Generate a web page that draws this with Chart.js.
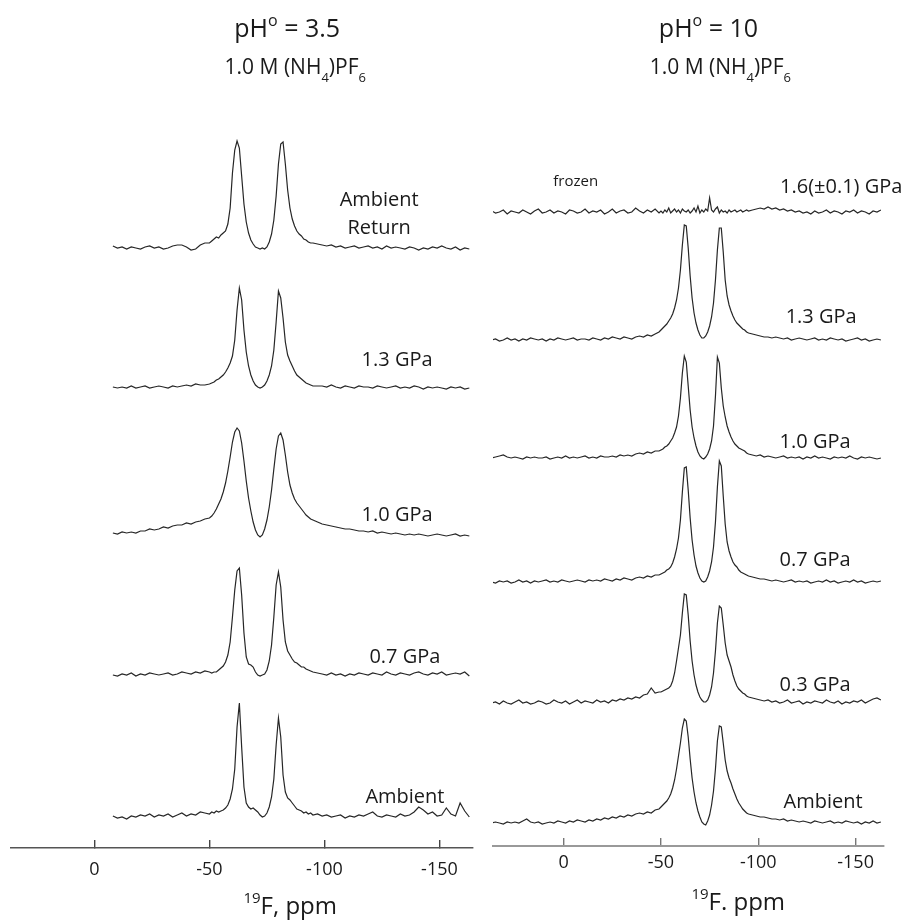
<!DOCTYPE html>
<html>
<head>
<meta charset="utf-8">
<script src="https://cdn.jsdelivr.net/npm/chart.js@4.4.1/dist/chart.umd.min.js"></script>
<style>
  body { margin: 0; background: #fff; }
  #wrap { position: relative; width: 913px; height: 920px; }
  .panel { position: absolute; top: 0; height: 920px; }
</style>
</head>
<body>
<div id="wrap">
  <div class="panel" style="left:0;width:480px"><canvas id="left-chart"></canvas></div>
  <div class="panel" style="left:480px;width:433px"><canvas id="right-chart"></canvas></div>
</div>
<script>
// chemical shift grids (ppm)
const leftPpm = [
  -8, -10, -12, -14, -16, -18, -20, -22, -24, -26, -28, -30, -32, -34, -36, -38, -40, -42, -44, -46, -48,
  -50, -51, -52, -53, -54, -55, -56, -57, -58, -59, -60, -61, -62, -63, -64, -65, -66, -67, -68, -69,
  -70, -71, -72, -73, -74, -75, -76, -77, -78, -79, -80, -81, -82, -83, -84, -85, -86, -87, -88, -89,
  -90, -91, -92, -93, -94, -95,
  -97, -99, -101, -103, -105, -107, -109, -111, -113, -115, -117, -119, -121, -123, -125, -127, -129,
  -131, -133, -135, -137, -139, -141, -143, -145, -147, -149, -151, -153, -155, -157, -159, -161, -163
];
const rightPpm = [
  37, 35, 33, 31, 29, 27, 25, 23, 21, 19, 17, 15, 13, 11, 9, 7, 5, 3, 1, -1, -3, -5, -7, -9, -11, -13,
  -15, -17, -19, -21, -23, -25, -27, -29, -31, -33, -35, -37, -39, -41, -43, -45, -47, -49,
  -50, -51, -52, -53, -54, -55, -56, -57, -58, -59, -60, -61, -62, -63, -64, -65, -66, -67, -68, -69,
  -70, -71, -72, -73, -74, -75, -76, -77, -78, -79, -80, -81, -82, -83, -84, -85, -86, -87, -88, -89,
  -90, -91, -92, -93, -94, -95,
  -97, -99, -101, -103, -105, -107, -109, -111, -113, -115, -117, -119, -121, -123, -125, -127, -129,
  -131, -133, -135, -137, -139, -141, -143, -145, -147, -149, -151, -153, -155, -157, -159, -161, -163
];

// pH 3.5 spectra (intensity, arbitrary units)
const leftAmbientReturn = [
  2, 0, 1, -1, 1, 0, -1, 1, 2, 0, 1, -1, 0, 2, 3, 3, 1, -2, -1, 3, 5,
  5, 7, 9, 11, 10, 13, 15, 17, 24, 40, 75, 98, 107, 100, 72, 44, 26, 15, 8, 4,
  1, 0, -1, 0, -1, 1, 6, 14, 28, 52, 84, 104, 106, 84, 58, 40, 29, 22, 17, 14,
  12, 9, 8, 6, 5, 5,
  4, 3, 2, 3, 1, 2, 0, 1, 2, 0, 1, 2, 0, 1, -1, 2, 0, 1, 0, -1, 1, 0, -2, 0, -1, 1, 0, 2, 0, -1, 1, -2, 0, -1
];
const left13 = [
  1, 0, 1, 0, 2, 0, 1, 2, 0, 1, 2, 1, 0, 2, 1, 2, 3, 2, 4, 3, 3,
  4, 5, 6, 8, 9, 11, 13, 16, 20, 25, 32, 48, 78, 100, 88, 58, 36, 22, 13, 7,
  3, 1, 0, 1, 3, 7, 13, 22, 38, 66, 97, 90, 70, 46, 33, 27, 22, 17, 13, 11,
  9, 7, 5, 4, 3, 2,
  2, 2, 1, 3, 1, 0, 2, 1, 0, 2, 1, 1, 0, 2, 1, 0, 1, 2, 0, 1, 0, 2, 1, -1, 1, 0, 1, 0, -1, 1, 0, 1, -1, 0
];
const left10 = [
  2, 1, 3, 2, 3, 2, 4, 4, 6, 5, 6, 8, 7, 9, 10, 10, 12, 11, 13, 14, 16,
  17, 19, 22, 26, 31, 36, 43, 52, 64, 78, 93, 103, 107, 104, 92, 74, 54, 37, 24, 13,
  5, 0, -2, 0, 6, 15, 28, 45, 66, 86, 99, 102, 95, 80, 63, 50, 42, 36, 32, 29,
  26, 23, 20, 18, 16, 15,
  13, 11, 10, 9, 8, 7, 6, 6, 5, 4, 4, 3, 4, 2, 3, 2, 1, 2, 1, 0, 1, 0, 1, 0, -1, 0, 1, 0, -1, 0, 1, -1, 0, -1
];
const left07 = [
  0, -1, 1, 0, 2, -1, 1, 0, 2, 1, 0, 1, 2, 0, 1, 3, 2, 1, 3, 2, 4,
  3, 2, 3, 3, 5, 7, 9, 13, 20, 33, 58, 85, 104, 107, 80, 42, 18, 11, 10, 8,
  3, 0, -1, 0, 1, 5, 14, 30, 58, 90, 103, 88, 55, 33, 24, 20, 16, 13, 12, 10,
  8, 8, 6, 5, 4, 3,
  2, 1, 0, 2, 0, 1, -1, 1, 0, 2, 1, 0, 2, 1, 0, 3, 1, 0, 2, 1, 0, 2, 3, 1, 0, 2, 1, 3, 0, 1, 2, 1, 3, -1
];
const leftAmbient = [
  1, -1, 0, -2, 1, 0, 2, 1, 3, 0, 2, 1, 3, 0, 2, 4, 1, 3, 2, 5, 4,
  3, 5, 4, 6, 5, 6, 7, 9, 12, 18, 28, 48, 90, 114, 70, 30, 14, 10, 8, 9,
  7, 5, 2, 0, 1, 4, 10, 20, 38, 72, 99, 80, 42, 25, 19, 17, 14, 11, 8, 7,
  6, 4, 5, 3, 4, 2,
  3, 1, 2, 0, 1, 2, -1, 1, 0, 2, 1, 3, 5, 1, 0, 2, 1, 0, 3, 1, 2, 5, 10, 7, 3, 5, 1, 2, 9, 3, 1, 14, 6, 0
];

// pH 10 spectra
const rightFrozen = [
  1, -1, 0, 2, -2, 1, 0, -1, 2, 0, -2, 1, 3, -1, 0, 2, -1, 1, 0, -2, 2, 1, -1, 0, 3, -1, 1, 0, 2, -2,
  0, 3, -1, 1, 2, -1, 0, 4, 1, -1, 2, 0, 3, -1,
  1, -1, 2, 0, 4, -1, 1, 3, 0, 2, -1, 3, 1, 0, 2, -1, 1, 4, 0, 6,
  -1, 2, 0, 3, 1, 14, 2, 0, 3, 5, -1, 2, 0, 1, -1, 2, 0, 1, 2, 0,
  1, 2, 0, 1, 2, 1,
  2, 3, 4, 3, 5, 3, 4, 2, 3, 1, 2, 0, 1, -1, 0, -2, 1, -1, 0, 2, -1, 1, 0, -2, 1, 0, 2, -1, 1, 0, -2, 1, 0, 2
];
const right13 = [
  0, 1, -1, 0, 2, 0, 1, -1, 1, 0, 2, 1, 0, 1, -1, 1, 0, 2, 1, 0, 1, 2, 0, 1, 1, 0, 2, 1, 0, 2,
  1, 3, 2, 1, 3, 2, 1, 3, 4, 3, 5, 4, 6, 8,
  10, 12, 14, 16, 19, 22, 26, 32, 40, 52, 70, 95, 115, 114, 92, 64, 42, 27, 17, 10,
  5, 2, 2, 4, 8, 14, 23, 37, 60, 90, 112, 112, 88, 60, 44, 35, 29, 24, 20, 17,
  15, 13, 11, 10, 8, 7,
  6, 5, 4, 3, 3, 2, 3, 2, 1, 2, 0, 1, 2, 1, 0, 1, 2, 0, 1, 0, 2, 1, 0, 1, -1, 0, 1, 2, 0, 1, -1, 0, 1, 0
];
const right10 = [
  0, 1, 2, 3, 1, 0, 1, 0, -1, 1, 0, 1, 0, 0, 1, -1, 0, 1, 0, 2, 0, 1, 0, 1, 2, 0, 1, 0, 2, 1,
  1, 2, 1, 3, 2, 3, 2, 4, 5, 4, 6, 5, 7, 7,
  8, 9, 11, 12, 14, 17, 20, 25, 31, 42, 60, 85, 102, 96, 72, 48, 31, 20, 12, 6,
  2, 0, -1, 1, 4, 9, 17, 32, 62, 101, 95, 70, 52, 41, 32, 26, 21, 17, 14, 12,
  10, 9, 8, 7, 5, 4,
  3, 2, 3, 1, 2, 1, 0, 1, 2, 0, 1, 0, 1, -1, 1, 0, 2, 0, 1, 0, -1, 1, 0, 1, 0, 2, 0, -1, 1, 0, 1, 0, -1, 0
];
const right07 = [
  0, -1, 1, 0, 1, -1, 0, 2, 0, 1, -1, 1, 0, 1, 2, 0, 1, 0, 2, 1, 0, 1, 2, 1, 0, 2, 1, 2, 1, 3,
  2, 1, 3, 2, 4, 3, 2, 4, 5, 4, 6, 5, 7, 7,
  8, 9, 10, 12, 13, 15, 19, 25, 33, 44, 62, 90, 114, 115, 92, 64, 42, 27, 16, 9,
  4, 1, 0, 1, 5, 11, 20, 35, 60, 95, 121, 116, 86, 58, 40, 31, 25, 20, 17, 15,
  12, 10, 9, 8, 7, 6,
  5, 4, 3, 3, 2, 1, 2, 1, 0, 1, 2, 0, 1, 0, 1, -1, 0, 1, 0, 2, 0, 1, -1, 0, 1, 0, 2, 0, 1, -1, 0, 1, 0, 1
];
const right03 = [
  0, 1, -1, 2, 0, -1, 1, 3, 0, 1, -1, 0, 2, 1, -1, 0, 3, 1, 0, 2, -1, 1, 3, 0, 2, 1, 0, 3, 1, 2,
  0, 3, 2, 4, 3, 5, 4, 6, 5, 8, 9, 15, 10, 11,
  11, 12, 13, 14, 15, 17, 22, 30, 42, 55, 68, 90, 109, 108, 88, 62, 42, 28, 18, 11,
  6, 3, 1, 1, 3, 8, 16, 30, 52, 80, 97, 95, 78, 60, 48, 42, 36, 28, 22, 17,
  14, 12, 10, 9, 7, 6,
  5, 4, 3, 2, 3, 1, 2, 0, 1, 3, 0, 1, 2, -1, 1, 0, 2, 1, 0, 3, 1, 0, 2, -1, 1, 0, 2, 1, 3, 0, 2, 4, 5, 3
];
const rightAmbient = [
  0, 1, 0, -1, 1, 0, 1, 0, 2, 4, 1, 0, 1, -1, 0, 1, 0, 2, 1, 0, 2, 1, 3, 2, 1, 3, 2, 4, 3, 5,
  4, 6, 5, 7, 6, 8, 7, 9, 10, 9, 11, 10, 13, 14,
  16, 18, 20, 22, 25, 29, 35, 43, 54, 67, 80, 95, 104, 102, 86, 64, 45, 31, 20, 12,
  6, 1, -1, -2, 2, 8, 18, 32, 54, 82, 97, 96, 80, 63, 52, 45, 40, 34, 29, 24,
  20, 17, 14, 12, 10, 9,
  8, 7, 6, 6, 5, 4, 4, 3, 4, 2, 3, 2, 1, 2, 1, 0, 2, 1, 0, 1, 2, 0, 1, 0, 2, 1, 0, 1, -1, 1, 0, 2, 0, 1
];

const leftSeries = [leftAmbientReturn, left13, left10, left07, leftAmbient];
const rightSeries = [rightFrozen, right13, right10, right07, right03, rightAmbient];
const leftNames = ['Ambient\nReturn', '1.3 GPa', '1.0 GPa', '0.7 GPa', 'Ambient'];
const rightNames = ['1.6(\u00b10.1) GPa', '1.3 GPa', '1.0 GPa', '0.7 GPa', '0.3 GPa', 'Ambient'];
const xTicks = [0, -50, -100, -150];

// layout: vertical stacking offset of each trace, label anchor (ppm, height above baseline)
const leftOffsets = [600, 460, 313, 173, 31];
const rightOffsets = [634, 506, 388, 264, 143, 23];
const leftLabelPos = [[-123.8, 34], [-131.6, 28], [-131.6, 20], [-135, 18], [-135, 20]];
const rightLabelPos = [[-142.6, 25], [-132.3, 23], [-129.2, 16], [-129.2, 22], [-129.2, 18], [-133.3, 21]];

const FONT = '"Open Sans", "Noto Sans", sans-serif';
const INK = '#1a1a1a';

function drawRich(ctx, parts, cx, cy, size) {
  const small = Math.round(size * 0.62);
  let w = 0;
  parts.forEach(([t, k]) => {
    ctx.font = (k ? small : size) + 'px ' + FONT;
    w += ctx.measureText(t).width;
  });
  let xx = cx - w / 2;
  ctx.textAlign = 'left';
  ctx.textBaseline = 'middle';
  ctx.fillStyle = INK;
  parts.forEach(([t, k]) => {
    ctx.font = (k ? small : size) + 'px ' + FONT;
    const dy = k === 'sup' ? -size * 0.36 : k === 'sub' ? size * 0.5 : 0;
    ctx.fillText(t, xx, cy + dy);
    xx += ctx.measureText(t).width;
  });
}

function makePanel(id, ppm, series, offsets, names, labelPos, extra, cfg) {
  const datasets = series.map((vals, i) => ({
    data: ppm.map((p, j) => ({ x: p, y: vals[j] + offsets[i] })),
    borderColor: '#262626',
    borderWidth: 1.2,
    pointRadius: 0,
    tension: 0,
    fill: false
  }));

  const textPlugin = {
    id: 'panelText',
    afterDraw(chart) {
      const { ctx, scales: { x, y } } = chart;
      ctx.save();
      names.forEach((name, i) => {
        const lines = name.split('\n');
        const cx = x.getPixelForValue(labelPos[i][0]);
        const cy = y.getPixelForValue(offsets[i] + labelPos[i][1]);
        lines.forEach((ln, k) => {
          drawRich(ctx, [[ln, '']], cx, cy + (k - (lines.length - 1) / 2) * 28, 20);
        });
      });
      extra.forEach(t => {
        drawRich(ctx, t.parts, x.getPixelForValue(t.ppm), y.getPixelForValue(t.val), t.size);
      });
      ctx.restore();
    }
  };

  return new Chart(document.getElementById(id), {
    type: 'line',
    data: { datasets },
    plugins: [textPlugin],
    options: {
      responsive: true,
      maintainAspectRatio: false,
      animation: false,
      parsing: false,
      layout: { padding: cfg.padding },
      plugins: { legend: { display: false }, tooltip: { enabled: false } },
      scales: {
        x: {
          type: 'linear',
          reverse: true,
          min: -164.6,
          max: 36.3,
          afterBuildTicks: s => { s.ticks = xTicks.map(v => ({ value: v })); },
          afterFit: s => { s.height = cfg.axisHeight; },
          ticks: {
            color: INK,
            padding: cfg.tickPad,
            font: { family: FONT, size: 18 },
            callback: v => String(v)
          },
          grid: { drawOnChartArea: false, tickLength: -8, color: cfg.tickColor, lineWidth: 1.4 },
          border: { color: cfg.axisColor, width: cfg.axisWidth }
        },
        y: { display: false, min: 0, max: cfg.yMax }
      }
    }
  });
}

makePanel('left-chart', leftPpm, leftSeries, leftOffsets, leftNames, leftLabelPos, [
  { parts: [['pH', ''], ['o', 'sup'], [' = 3.5', '']], ppm: -83.8, val: 818, size: 25 },
  { parts: [['1.0 M (NH', ''], ['4', 'sub'], [')PF', ''], ['6', 'sub']], ppm: -87.3, val: 780, size: 21 },
  { parts: [['19', 'sup'], ['F, ppm', '']], ppm: -85.1, val: -59, size: 24 }
], { padding: { left: 11, right: 7, top: 100, bottom: 0 }, axisHeight: 72, tickPad: 19, yMax: 748,
     axisColor: '#555', tickColor: '#444', axisWidth: 1.5 });

makePanel('right-chart', rightPpm, rightSeries, rightOffsets, rightNames, rightLabelPos, [
  { parts: [['pH', ''], ['o', 'sup'], [' = 10', '']], ppm: -74.4, val: 816, size: 25 },
  { parts: [['1.0 M (NH', ''], ['4', 'sub'], [')PF', ''], ['6', 'sub']], ppm: -80.5, val: 778, size: 21 },
  { parts: [['frozen', '']], ppm: -6.2, val: 664, size: 15 },
  { parts: [['19', 'sup'], ['F. ppm', '']], ppm: -89.7, val: -57, size: 24 }
], { padding: { left: 13, right: 29, top: 100, bottom: 0 }, axisHeight: 74, tickPad: 14, yMax: 746,
     axisColor: '#999', tickColor: '#777', axisWidth: 2 });
</script>
</body>
</html>
